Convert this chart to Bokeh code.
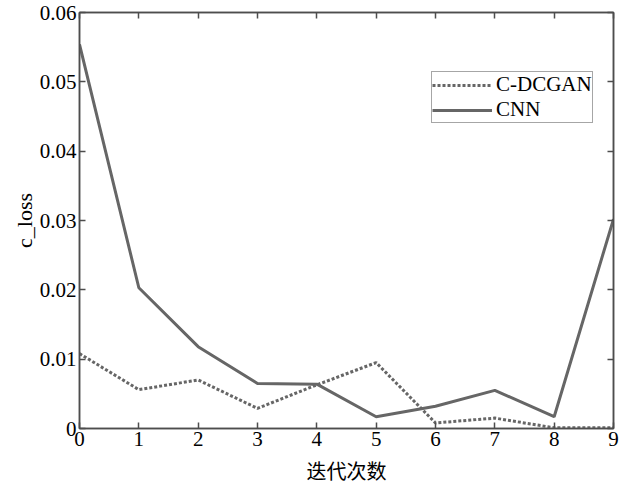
from bokeh.plotting import figure
from bokeh.models import (FixedTicker, CustomJSTickFormatter, LinearAxis, Legend, LegendItem,
                          Range1d)
from bokeh.embed import file_html
from bokeh.resources import INLINE

iterations = [0, 1, 2, 3, 4, 5, 6, 7, 8, 9]
cdcgan_loss = [0.0108, 0.0056, 0.0070, 0.0029, 0.0063, 0.0095, 0.0008, 0.0015, 0.0001, 0.0001]
cnn_loss = [0.0554, 0.0203, 0.0118, 0.0065, 0.0064, 0.0017, 0.0032, 0.0055, 0.0017, 0.0302]
x_ticks = [0, 1, 2, 3, 4, 5, 6, 7, 8, 9]
y_ticks = [0, 0.01, 0.02, 0.03, 0.04, 0.05, 0.06]

FONT = "Liberation Serif"
LINE_COLOR = "#666666"
AXIS_COLOR = "#4d4d4d"

p = figure(frame_width=534, frame_height=416, output_backend="svg", toolbar_location=None,
           x_range=Range1d(0, 9), y_range=Range1d(0, 0.06),
           min_border_left=79, min_border_top=12, min_border_right=8, min_border_bottom=54,
           x_axis_label="迭代次数", y_axis_label="c_loss")
p.background_fill_color = "white"
p.border_fill_color = "white"
p.grid.visible = False
p.outline_line_color = AXIS_COLOR
p.outline_line_width = 1.5

r1 = p.line(iterations, cdcgan_loss, line_color=LINE_COLOR, line_width=3, line_dash="3 2")
r2 = p.line(iterations, cnn_loss, line_color=LINE_COLOR, line_width=3)

fmt = CustomJSTickFormatter(code="return tick == 0 ? '0' : tick.toFixed(2);")

def style(ax, labels=True):
    ax.axis_line_color = AXIS_COLOR
    ax.axis_line_width = 1.5
    ax.major_tick_line_color = AXIS_COLOR
    ax.major_tick_line_width = 1.5
    ax.major_tick_in = 6
    ax.major_tick_out = 0
    ax.minor_tick_line_color = None
    ax.major_label_text_font = FONT
    ax.major_label_text_font_size = "21px"
    ax.major_label_text_color = "black"
    ax.major_label_standoff = 3
    if not labels:
        ax.major_label_text_alpha = 0
        ax.major_label_text_font_size = "1px"

p.xaxis.ticker = FixedTicker(ticks=x_ticks)
p.yaxis.ticker = FixedTicker(ticks=y_ticks)
p.yaxis.formatter = fmt
for ax in p.xaxis + p.yaxis:
    style(ax)
p.xaxis.axis_label_text_font = "Noto Sans CJK SC"
p.xaxis.axis_label_text_font_size = "20px"
p.xaxis.axis_label_text_font_style = "normal"
p.xaxis.axis_label_text_color = "black"
p.xaxis.axis_label_standoff = 7
p.yaxis.axis_label_text_font = FONT
p.yaxis.axis_label_text_font_size = "22px"
p.yaxis.axis_label_text_font_style = "normal"
p.yaxis.axis_label_text_color = "black"
p.yaxis.axis_label_standoff = 0

top = LinearAxis(ticker=FixedTicker(ticks=x_ticks))
style(top, labels=False)
p.add_layout(top, "above")
right = LinearAxis(ticker=FixedTicker(ticks=y_ticks))
style(right, labels=False)
p.add_layout(right, "right")

legend = Legend(items=[LegendItem(label="C-DCGAN", renderers=[r1]),
                       LegendItem(label="CNN", renderers=[r2])],
                location=(352, 305))
legend.label_text_font = FONT
legend.label_text_font_size = "21px"
legend.label_text_line_height = 0.8
legend.label_text_color = "black"
legend.border_line_color = AXIS_COLOR
legend.border_line_width = 1
legend.padding = 0
legend.spacing = 0
legend.margin = 0
legend.label_height = 18
legend.glyph_height = 18
legend.glyph_width = 60
legend.label_standoff = 4
legend.background_fill_alpha = 1
p.add_layout(legend, "center")

open("out.html", "w").write(file_html(p, INLINE))
